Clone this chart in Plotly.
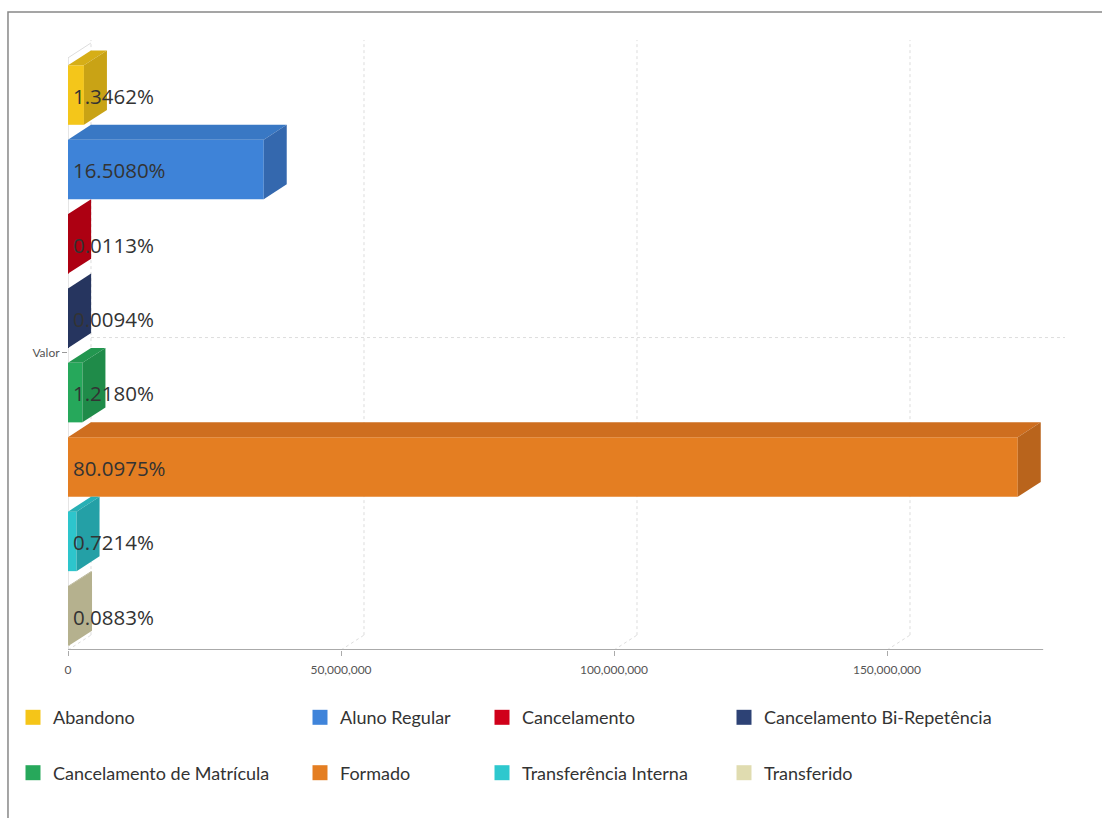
import plotly.graph_objects as go

# ---- data ----
series = ["Abandono", "Aluno Regular", "Cancelamento", "Cancelamento Bi-Repetência",
          "Cancelamento de Matrícula", "Formado", "Transferência Interna", "Transferido"]
values = [2920000, 35850000, 24500, 20400, 2645000, 173950000, 1567000, 191800]
pct_labels = ["1.3462%", "16.5080%", "0.0113%", "0.0094%", "1.2180%", "80.0975%", "0.7214%", "0.0883%"]
category = "Valor"
tick_vals = [0, 50000000, 100000000, 150000000]

legend_colors = ["#F5C518", "#3F84DA", "#D0001A", "#2D4275", "#27A85B", "#E47E22", "#2EC8CE", "#E0DCB0"]
front_colors = ["#F4C61A", "#3E83D8", "#B00012", "#26355F", "#26A85B", "#E47E22", "#2DC5CC", "#B5B18E"]
top_colors = ["#D6AE17", "#3978C4", "#9C0010", "#212E53", "#22964F", "#CE6E1F", "#28B0B5", "#A8A482"]
side_colors = ["#C9A315", "#3468AE", "#AD0012", "#26355F", "#1F8B49", "#B9641C", "#24A0A6", "#B5B18E"]

# ---- geometry (3D look) ----
x_max = 182.6e6       # includes back-plane depth
x_front_end = 178.6e6
dx = 4.21e6           # depth offset along x
dy = 0.2              # depth offset along y (category units)
hw = 0.4              # half bar width
y_top, y_bot = -0.74, 7.46
label_dx = 0.9e6
y_cat = 3.46

fig = go.Figure()

# front faces as real bars
ys = list(range(len(series)))
for i, (name, v) in enumerate(zip(series, values)):
    fig.add_trace(go.Bar(x=[v], y=[i], orientation="h", width=2 * hw,
                         marker=dict(color=front_colors[i], line=dict(width=0)),
                         showlegend=False, hoverinfo="skip", name=name))

# top and side faces
for i, v in enumerate(values):
    yt = i - hw
    yb = i + hw
    fig.add_trace(go.Scatter(x=[0, v, v + dx, dx, 0], y=[yt, yt, yt - dy, yt - dy, yt],
                             fill="toself", fillcolor=top_colors[i], mode="lines",
                             line=dict(width=0, color=top_colors[i]),
                             showlegend=False, hoverinfo="skip"))
    fig.add_trace(go.Scatter(x=[v, v + dx, v + dx, v, v], y=[yt, yt - dy, yb - dy, yb, yt],
                             fill="toself", fillcolor=side_colors[i], mode="lines",
                             line=dict(width=0, color=side_colors[i]),
                             showlegend=False, hoverinfo="skip"))

# data labels
fig.add_trace(go.Scatter(x=[label_dx] * len(values), y=[i + 0.05 for i in ys], mode="text",
                         text=pct_labels, textposition="middle right",
                         textfont=dict(family="Open Sans", size=20.5, color="#333333"),
                         showlegend=False, hoverinfo="skip", cliponaxis=False))

# legend entries (4 columns)
col_of = [0, 1, 2, 3, 0, 1, 2, 3]
legend_names = ["legend", "legend2", "legend3", "legend4"]
for i, name in enumerate(series):
    fig.add_trace(go.Scatter(x=[None], y=[None], name=name, mode="markers",
                             marker=dict(color=legend_colors[i], symbol="square", size=15,
                                         line=dict(width=0)),
                             legend=legend_names[col_of[i]], legendgroup=name, showlegend=True))

# gridlines and walls
shapes = []
for t in tick_vals:
    shapes.append(dict(type="line", xref="x", yref="y", x0=t + dx, x1=t + dx, y0=y_bot - dy, y1=y_top,
                       line=dict(color="#DDDDDD", width=1, dash="dot"), layer="below"))
    shapes.append(dict(type="line", xref="x", yref="y", x0=t, x1=t + dx, y0=y_bot, y1=y_bot - dy,
                       line=dict(color="#DDDDDD", width=1, dash="dot"), layer="below"))
shapes.append(dict(type="line", xref="x", yref="y", x0=dx, x1=x_max, y0=y_cat - dy, y1=y_cat - dy,
                   line=dict(color="#DDDDDD", width=1, dash="dot"), layer="below"))
shapes.append(dict(type="line", xref="x", yref="y", x0=0, x1=0, y0=-0.5, y1=y_bot,
                   line=dict(color="#CCCCCC", width=1), layer="below"))
shapes.append(dict(type="line", xref="x", yref="y", x0=0, x1=dx, y0=-0.5, y1=-0.5 - dy,
                   line=dict(color="#DDDDDD", width=1), layer="below"))
# x axis line (front plane)
shapes.append(dict(type="line", xref="x", yref="y", x0=0, x1=x_front_end, y0=y_bot, y1=y_bot,
                   line=dict(color="#AAAAAA", width=2)))
# outer frame
shapes.append(dict(type="rect", xref="paper", yref="paper", x0=-0.0602, x1=1.06, y0=-0.3, y1=1.0459,
                   line=dict(color="#888888", width=1.5)))

legend_common = dict(orientation="v", xanchor="left", yanchor="top", y=-0.0805,
                     font=dict(family="Lato", size=18, color="#333333"),
                     tracegroupgap=29, bgcolor="rgba(0,0,0,0)", itemsizing="trace")
col_px = [13, 300, 482, 724]
legends = {}
for k, ln in enumerate(legend_names):
    legends[ln] = dict(legend_common, x=(col_px[k] - 68) / 997)

fig.update_layout(
    width=1102, height=818,
    margin=dict(l=68, r=37, t=40, b=168, autoexpand=False),
    paper_bgcolor="white", plot_bgcolor="white",
    barmode="overlay",
    shapes=shapes,
    xaxis=dict(range=[0, x_max], tickvals=tick_vals, tickformat=",", showgrid=False, zeroline=False,
               showline=False, ticks="outside", ticklen=5, tickcolor="#AAAAAA",
               ticklabelstandoff=4,
               tickfont=dict(family="Lato", size=12, color="#555555")),
    yaxis=dict(range=[y_bot, y_top], tickvals=[y_cat], ticktext=[category], showgrid=False,
               zeroline=False, showline=False, ticks="outside", ticklen=5, tickcolor="#999999",
               tickfont=dict(family="Lato", size=12, color="#555555")),
    **legends,
)

fig.write_html("out.html")
